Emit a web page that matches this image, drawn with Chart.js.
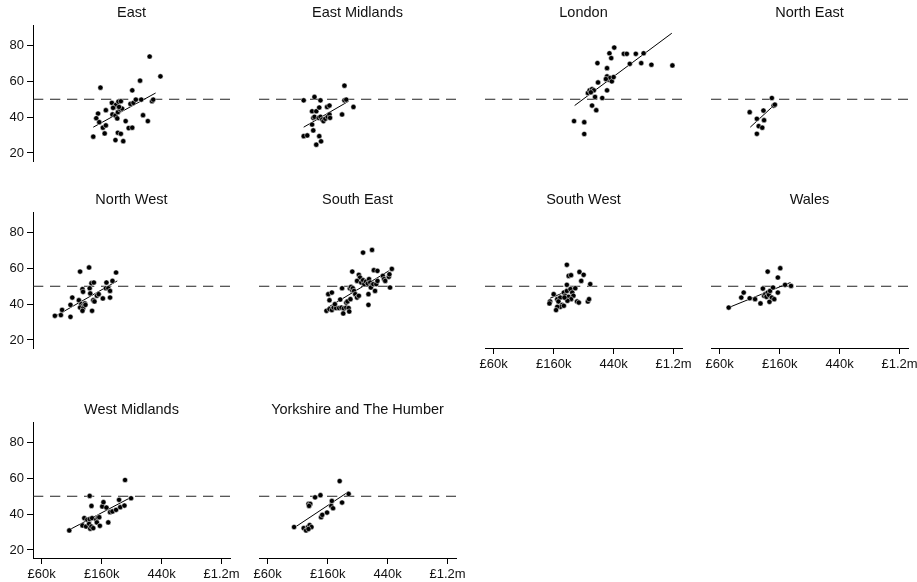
<!DOCTYPE html>
<html>
<head>
<meta charset="utf-8">
<script src="https://cdn.jsdelivr.net/npm/chart.js@4.4.1/dist/chart.umd.min.js"></script>
<style>
  body { margin: 0; background: #fff; }
  #page { position: relative; width: 917px; height: 582px; overflow: hidden; }
  .panel { position: absolute; }
</style>
</head>
<body>
<div id="page"></div>
<script>
// ---- data: x = ln(house price), y = share (%) ----
const regions = ["East", "East Midlands", "London", "North East", "North West",
  "South East", "South West", "Wales", "West Midlands", "Yorkshire and The Humber"];

const east = [[11.86,29.1],[11.98,56.5],[11.94,42.0],[11.91,39.4],[11.96,37.2],[12.02,34.1],
  [12.07,35.4],[12.05,30.9],[12.07,43.9],[12.17,48.0],[12.21,45.7],[12.24,46.9],[12.28,48.7],
  [12.32,48.9],[12.18,41.5],[12.23,40.9],[12.27,42.8],[12.31,44.3],[12.34,44.8],[12.26,39.3],
  [12.19,45.2],[12.29,45.7],[12.23,27.2],[12.27,31.3],[12.32,30.7],[12.36,26.6],[12.40,37.8],
  [12.45,33.9],[12.51,34.1],[12.51,55.0],[12.48,47.4],[12.53,48.0],[12.57,49.8],[12.64,60.4],
  [12.66,49.8],[12.69,41.1],[12.77,37.8],[12.80,73.9],[12.84,48.9],[12.86,49.8],[12.98,62.8]];
const eastMidlands = [[11.60,49.4],[11.78,51.3],[11.88,49.4],[11.74,43.3],[11.81,43.3],[11.86,45.4],
  [11.99,45.7],[12.03,46.5],[11.76,39.6],[11.78,40.2],[11.85,39.6],[11.88,40.2],[11.91,38.7],
  [11.93,37.8],[11.96,39.1],[12.00,40.2],[12.03,41.5],[12.04,39.6],[11.74,35.9],[11.60,29.4],
  [11.66,29.8],[11.76,32.6],[11.86,29.4],[11.81,24.6],[11.89,26.5],[12.24,41.5],[12.28,57.6],
  [12.28,49.4],[12.31,49.8],[12.43,45.7]];
const london = [[12.34,37.8],[12.51,37.2],[12.51,30.6],[12.64,46.5],[12.71,43.9],[12.57,53.5],
  [12.60,55.0],[12.64,55.7],[12.67,55.0],[12.62,53.9],[12.69,51.3],[12.81,50.7],[12.74,59.4],
  [12.89,55.0],[12.73,70.2],[12.89,67.4],[12.93,75.7],[12.96,73.0],[13.01,78.9],[12.89,62.8],
  [12.92,60.9],[12.94,61.9],[12.97,60.0],[13.00,62.4],[12.87,61.3],[13.17,75.4],[13.22,75.4],
  [13.27,69.8],[13.37,75.4],[13.50,75.7],[13.46,70.2],[13.63,69.3],[13.98,68.9]];
const northEast = [[11.50,42.8],[11.62,39.1],[11.73,43.7],[11.74,38.3],[11.65,35.0],[11.71,34.1],
  [11.62,30.7],[11.87,50.7],[11.90,46.5],[11.92,47.0]];
const northWest = [[11.22,33.5],[11.32,33.9],[11.34,36.8],[11.48,32.9],[11.48,39.6],[11.51,43.7],
  [11.64,58.2],[11.68,48.4],[11.69,46.9],[11.62,42.2],[11.66,40.0],[11.69,39.1],[11.72,40.4],
  [11.64,38.1],[11.69,37.6],[11.73,39.6],[11.68,36.3],[11.79,60.5],[11.80,48.9],[11.83,51.7],
  [11.87,52.1],[11.81,46.0],[11.86,42.2],[11.88,41.5],[11.84,36.3],[11.92,44.7],[11.95,45.6],
  [12.02,43.2],[12.08,52.1],[12.07,48.9],[12.11,48.9],[12.14,47.4],[12.14,43.7],[12.18,53.0],
  [12.24,57.7]];
const southEast = [[11.98,36.3],[12.03,37.2],[12.07,36.7],[12.10,38.1],[12.14,37.8],[12.19,37.8],
  [12.23,38.1],[12.27,37.6],[12.31,38.1],[12.35,37.8],[12.36,35.9],[12.26,34.8],[12.01,45.6],
  [12.07,46.5],[12.03,42.2],[12.12,40.0],[12.21,42.6],[12.24,48.9],[12.31,40.9],[12.33,41.5],
  [12.38,42.8],[12.37,48.9],[12.39,49.7],[12.41,47.8],[12.42,48.9],[12.44,47.4],[12.46,45.6],
  [12.49,43.7],[12.52,44.7],[12.41,58.2],[12.52,56.4],[12.54,54.9],[12.49,53.0],[12.56,52.1],
  [12.59,53.4],[12.61,51.2],[12.64,52.6],[12.67,51.5],[12.69,54.0],[12.71,52.1],[12.74,50.8],
  [12.68,45.6],[12.72,49.3],[12.76,51.2],[12.79,47.4],[12.81,51.2],[12.83,53.0],[12.59,68.8],
  [12.74,70.3],[12.77,59.0],[12.83,58.6],[12.92,55.8],[12.94,54.0],[13.02,55.3],[12.96,53.0],
  [13.03,56.7],[13.07,59.7],[13.04,49.3],[12.68,39.6]];
const southWest = [[12.22,62.0],[12.25,55.8],[12.29,56.2],[12.43,58.0],[12.50,56.4],[12.46,53.0],
  [12.61,51.2],[12.22,50.8],[12.00,45.6],[11.94,41.5],[11.93,40.4],[12.06,42.8],[12.11,43.7],
  [12.08,41.5],[12.17,46.5],[12.19,44.7],[12.22,47.4],[12.25,44.1],[12.28,48.4],[12.31,46.5],
  [12.33,44.7],[12.36,48.9],[12.29,42.8],[12.23,41.9],[12.18,43.7],[12.14,39.6],[12.11,38.5],
  [12.17,39.1],[12.06,38.5],[12.04,36.7],[12.39,41.5],[12.42,40.9],[12.57,41.5],[12.59,42.8]];
const wales = [[11.15,38.1],[11.36,43.7],[11.40,46.5],[11.50,43.3],[11.59,42.8],[11.68,40.4],
  [11.72,48.7],[11.74,44.7],[11.76,45.6],[11.78,44.1],[11.80,46.5],[11.82,45.2],[11.84,47.4],
  [11.89,49.3],[11.80,58.2],[11.83,41.3],[11.87,43.7],[11.91,42.8],[11.97,46.5],[11.97,54.9],
  [12.01,60.1],[12.09,50.8],[12.19,50.2]];
const westMidlands = [[11.46,30.9],[11.68,33.7],[11.71,37.8],[11.76,36.9],[11.80,37.2],[11.84,37.8],
  [11.74,33.1],[11.79,34.6],[11.81,31.9],[11.83,33.1],[11.86,32.2],[11.80,50.2],[11.83,44.6],
  [11.91,36.9],[11.94,38.1],[11.96,38.3],[11.92,35.4],[11.97,33.5],[12.01,44.3],[12.03,46.7],
  [12.08,43.7],[12.11,35.4],[12.14,41.1],[12.18,41.5],[12.24,42.4],[12.29,48.0],[12.31,43.9],
  [12.38,44.8],[12.39,59.1],[12.49,48.9]];
const yorkshire = [[11.44,32.8],[11.60,32.2],[11.64,30.9],[11.67,32.8],[11.70,33.9],[11.73,32.8],
  [11.68,31.7],[11.68,45.7],[11.71,45.7],[11.69,44.6],[11.79,49.4],[11.88,50.6],[11.89,38.3],
  [11.91,39.6],[11.99,40.9],[12.06,44.6],[12.09,43.3],[12.07,47.4],[12.20,58.5],[12.24,46.5],
  [12.35,51.3]];

const points = [east, eastMidlands, london, northEast, northWest,
  southEast, southWest, wales, westMidlands, yorkshire];

// fitted line end points, per region
const fitX = [[11.86,12.90],[11.60,12.35],[12.35,13.97],[11.51,11.93],[11.24,12.26],
  [12.00,13.02],[11.94,12.40],[11.15,12.18],[11.44,12.49],[11.46,12.35]];
const fitY = [[34.4,53.5],[34.4,48.9],[46.5,86.9],[34.4,47.4],[33.5,53.0],
  [38.1,58.6],[43.3,49.7],[38.1,52.1],[30.9,49.4],[32.8,52.6]];

const refLevel = 50;
const yTicks = [20, 40, 60, 80];
const xTicks = [11, 12, 13, 14];
const xTickLabels = ["£60k", "£160k", "440k", "£1.2m"];

// ---- layout ----
const X_MIN = 10.855, X_MAX = 14.14, Y_MIN = 15.5, Y_MAX = 91.5;
const colLeft = [33, 259, 485, 711];
const rowTop = [25, 212, 422];
const PAD_L = 40, PAD_R = 24, PAD_T = 21, PAD_B = 32, AREA_W = 197, AREA_H = 136;
const showXAxis = [6, 7, 8, 9];

Chart.defaults.font.family = "'Liberation Sans', Arial, Helvetica, sans-serif";
Chart.defaults.color = "#111";

const page = document.getElementById("page");

regions.forEach((name, i) => {
  const col = i % 4, row = Math.floor(i / 4);
  const showX = showXAxis.includes(i);
  const showY = col === 0;

  const box = document.createElement("div");
  box.className = "panel";
  box.style.left = (colLeft[col] - PAD_L) + "px";
  box.style.top = (rowTop[row] - PAD_T) + "px";
  const canvas = document.createElement("canvas");
  canvas.width = PAD_L + AREA_W + PAD_R;
  canvas.height = PAD_T + AREA_H + PAD_B;
  box.appendChild(canvas);
  page.appendChild(box);

  new Chart(canvas, {
    type: "scatter",
    data: {
      datasets: [
        {
          data: points[i].map(([x, y]) => ({ x, y })),
          pointRadius: 2.6,
          backgroundColor: "#000",
          borderColor: "#fff",
          borderWidth: 0.5,
          order: 0,
        },
        {
          data: fitX[i].map((x, k) => ({ x, y: fitY[i][k] })),
          showLine: true,
          borderColor: "#000",
          borderWidth: 1,
          pointRadius: 0,
          order: 1,
        },
        {
          data: [{ x: X_MIN, y: refLevel }, { x: X_MAX, y: refLevel }],
          showLine: true,
          borderColor: "#222",
          borderWidth: 1,
          borderDash: [10.3, 6.7],
          pointRadius: 0,
          order: 2,
        },
      ],
    },
    options: {
      responsive: false,
      animation: false,
      events: [],
      layout: { padding: { left: 0, top: 0, bottom: 0, right: PAD_R } },
      plugins: {
        legend: { display: false },
        tooltip: { enabled: false },
        title: {
          display: true,
          text: name,
          fullSize: false,
          color: "#111",
          font: { size: 14.5, weight: "normal", lineHeight: 1.2 },
          padding: { top: 0, bottom: 3.6 },
        },
      },
      scales: {
        x: {
          type: "linear",
          min: X_MIN,
          max: X_MAX,
          afterFit: (s) => { s.height = PAD_B; },
          afterBuildTicks: (s) => { s.ticks = xTicks.map((v) => ({ value: v })); },
          ticks: {
            display: showX,
            callback: (v, k) => xTickLabels[k],
            color: "#111",
            font: { size: 13 },
            padding: 3,
            maxRotation: 0,
            autoSkip: false,
          },
          grid: { display: showX, drawOnChartArea: false, drawTicks: true, tickLength: 6, color: "#000" },
          border: { display: showX, color: "#000", width: 1 },
        },
        y: {
          type: "linear",
          min: Y_MIN,
          max: Y_MAX,
          afterFit: (s) => { s.width = PAD_L; },
          afterBuildTicks: (s) => { s.ticks = yTicks.map((v) => ({ value: v })); },
          ticks: {
            display: showY,
            color: "#111",
            font: { size: 13 },
            padding: 3,
          },
          grid: { display: showY, drawOnChartArea: false, drawTicks: true, tickLength: 6, color: "#000" },
          border: { display: showY, color: "#000", width: 1 },
        },
      },
    },
  });
});
</script>
</body>
</html>
